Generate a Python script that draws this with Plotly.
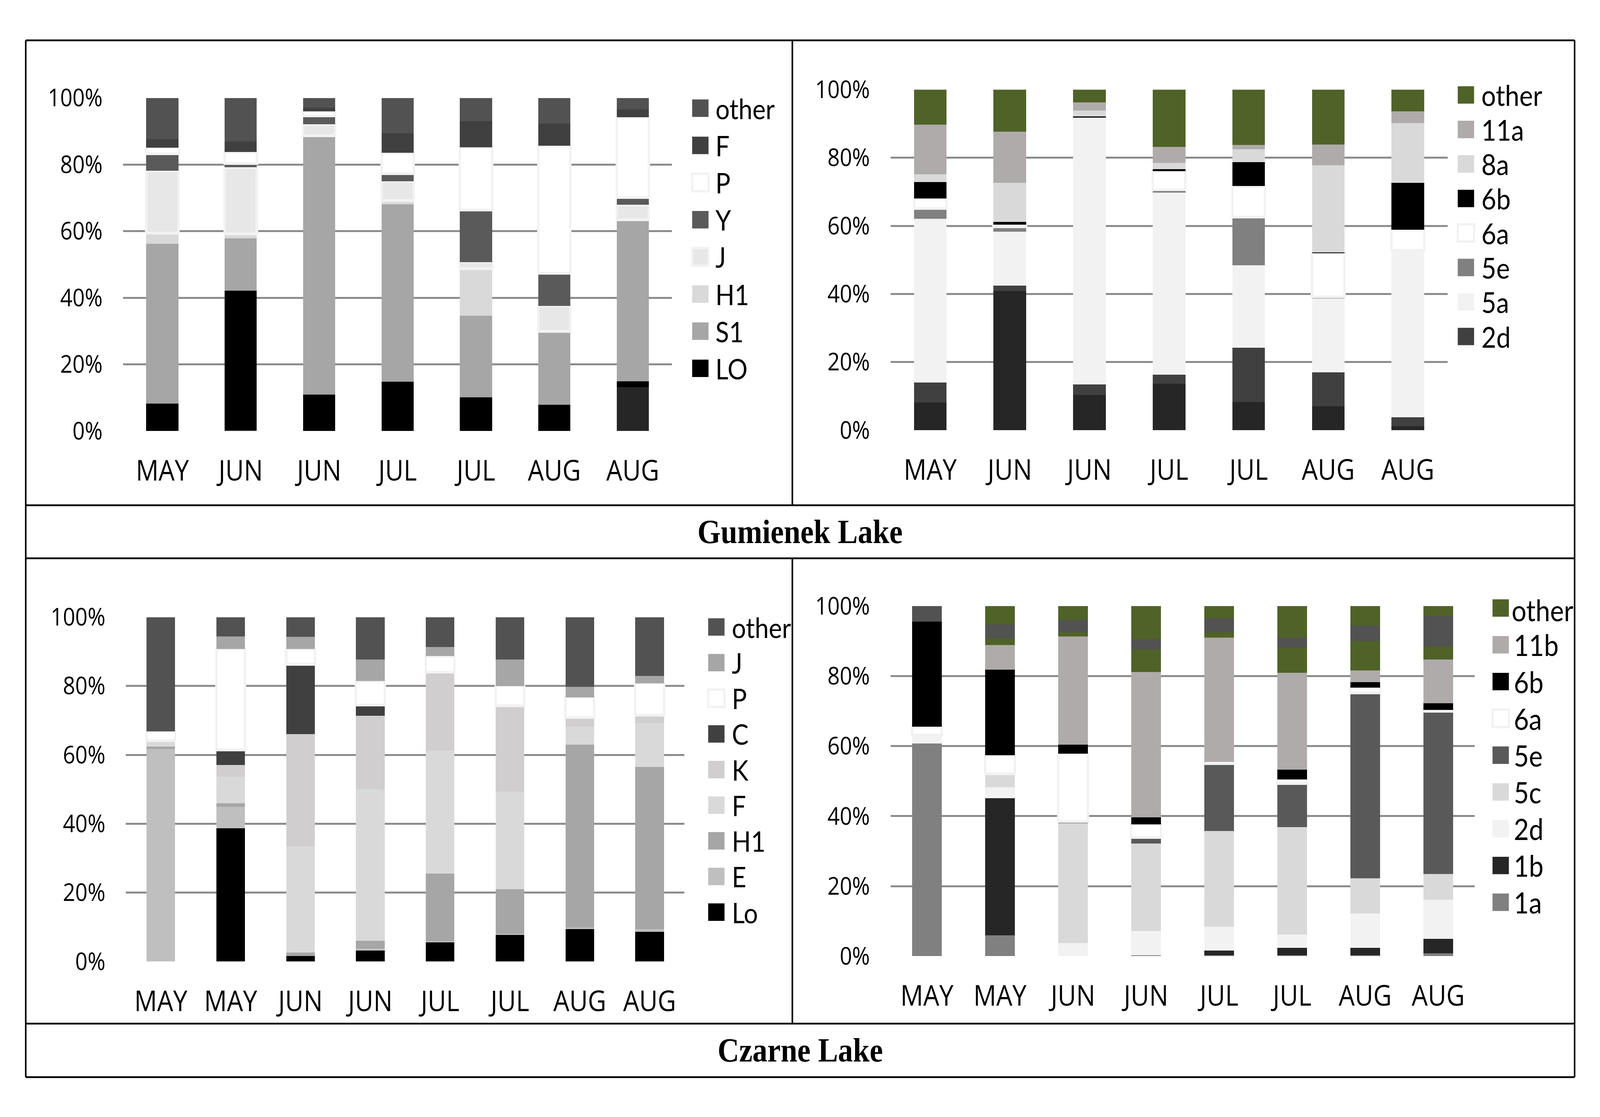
import plotly.graph_objects as go

W, H = 4600, 2859

# ------------------------------------------------------------------ data
# Gumienek Lake, left chart (percent of each segment, bottom -> top)
gum_a_months = ["MAY", "JUN", "JUN", "JUL", "JUL", "AUG", "AUG"]
gum_a_base = [0, 0.4, 0, 0, 0, 0, 13.1]          # unlabelled dark segment
gum_a_LO = [8.2, 41.7, 10.9, 14.8, 10.1, 7.9, 1.8]
gum_a_S1 = [48.0, 15.8, 77.7, 53.3, 24.5, 21.5, 48.5]
gum_a_H1 = [3.2, 1.3, 0, 1.1, 14.2, 0.6, 0]
gum_a_J = [18.7, 20.0, 3.5, 5.8, 1.9, 7.5, 4.5]
gum_a_Y = [5.1, 1.1, 2.5, 2.3, 15.7, 9.8, 2.2]
gum_a_P = [1.9, 3.5, 1.4, 6.2, 18.8, 38.3, 24.1]
gum_a_F = [2.5, 3.2, 1.0, 5.9, 7.8, 6.7, 2.4]
gum_a_other = [12.4, 13.0, 3.0, 10.6, 7.0, 7.7, 3.4]

# Gumienek Lake, right chart
gum_b_months = ["MAY", "JUN", "JUN", "JUL", "JUL", "AUG", "AUG"]
gum_b_base = [8.2, 40.8, 10.3, 13.6, 8.3, 7.0, 1.2]  # unlabelled dark segment
gum_b_2d = [5.8, 1.7, 3.1, 2.7, 15.9, 10.0, 2.6]
gum_b_5a = [48.1, 15.8, 78.2, 53.4, 24.2, 21.7, 49.0]
gum_b_5e = [3.0, 1.4, 0, 0.9, 14.2, 0.5, 0]
gum_b_6a = [2.9, 0.7, 0.2, 5.5, 9.1, 12.8, 6.0]
gum_b_6b = [4.9, 0.7, 0.3, 0.5, 7.0, 0.2, 13.8]
gum_b_8a = [2.2, 11.5, 1.7, 1.9, 3.8, 25.6, 17.6]
gum_b_11a = [14.6, 15.0, 2.5, 4.7, 1.2, 6.1, 3.4]
gum_b_other = [10.3, 12.4, 3.7, 16.8, 16.3, 16.1, 6.4]

# Czarne Lake, left chart
cz_a_months = ["MAY", "MAY", "JUN", "JUN", "JUL", "JUL", "AUG", "AUG"]
cz_a_Lo = [0, 38.7, 1.6, 3.2, 5.5, 7.7, 9.4, 8.6]
cz_a_E = [61.7, 6.2, 0, 0.5, 0.4, 0.3, 0.5, 0.8]
cz_a_H1 = [0.7, 1.0, 1.0, 2.3, 19.6, 13.0, 53.1, 47.1]
cz_a_F = [1.7, 7.8, 30.9, 44.0, 35.7, 28.3, 5.2, 12.7]
cz_a_K = [0, 3.4, 32.5, 21.4, 22.8, 24.9, 2.6, 2.3]
cz_a_C = [0, 4.3, 20.3, 3.1, 0, 0, 0, 0]
cz_a_P = [2.7, 29.4, 4.4, 6.9, 4.7, 5.8, 5.9, 9.3]
cz_a_J = [0, 3.6, 3.6, 6.3, 2.6, 7.7, 3.1, 2.1]
cz_a_other = [33.2, 5.6, 5.7, 12.3, 8.7, 12.3, 20.2, 17.1]

# Czarne Lake, right chart
cz_b_months = ["MAY", "MAY", "JUN", "JUN", "JUL", "JUL", "AUG", "AUG"]
cz_b_1a = [60.7, 6.0, 0, 0.3, 0.3, 0.3, 0.3, 0.8]
cz_b_1b = [0, 39.1, 0, 0, 1.3, 2.1, 2.1, 4.1]
cz_b_2d = [2.4, 3.2, 3.7, 6.9, 6.8, 3.8, 9.8, 11.2]
cz_b_5c = [0, 3.4, 34.3, 25.0, 27.3, 30.7, 10.0, 7.4]
cz_b_5e = [0, 0.4, 0.5, 1.7, 19.3, 12.4, 53.0, 46.5]
cz_b_6a = [2.4, 5.3, 19.4, 3.8, 0.5, 1.2, 1.5, 0.4]
cz_b_6b = [30.1, 24.5, 2.5, 2.0, 0, 2.8, 1.6, 1.9]
cz_b_11b = [0, 7.0, 30.9, 41.5, 35.5, 27.6, 3.3, 12.4]
cz_b_other = [0, 1.9, 1.3, 6.4, 1.6, 7.3, 8.4, 3.7]
cz_b_grey = [4.4, 4.0, 3.4, 2.9, 3.9, 2.8, 4.5, 8.7]   # unlabelled dark segment
cz_b_green = [0, 5.2, 4.0, 9.5, 3.5, 9.0, 5.5, 2.9]  # unlabelled green segment

y_ticks = [0, 20, 40, 60, 80, 100]
y_tick_text = ["0%", "20%", "40%", "60%", "80%", "100%"]
titles = ["Gumienek Lake", "Czarne Lake"]

# ------------------------------------------------------------------ styles
BORDER = "#f2f2f2"
GREEN = "#4f6228"

# (name, values, colour, bordered, in legend)
panels = [
    dict(months=gum_a_months, series=[
        ("", gum_a_base, "#262626", False, False),
        ("LO", gum_a_LO, "#000000", False, True),
        ("S1", gum_a_S1, "#a6a6a6", False, True),
        ("H1", gum_a_H1, "#d9d9d9", False, True),
        ("J", gum_a_J, "#e7e7e7", True, True),
        ("Y", gum_a_Y, "#5a5a5a", False, True),
        ("P", gum_a_P, "#ffffff", True, True),
        ("F", gum_a_F, "#404040", False, True),
        ("other", gum_a_other, "#525252", False, True),
    ], dom_x=(354, 1932), dom_y=(213, 1091),
        leg=dict(sx=1990, cy=240, step=98, tx=2055, fs=72)),
    dict(months=gum_b_months, series=[
        ("", gum_b_base, "#262626", False, False),
        ("2d", gum_b_2d, "#404040", False, True),
        ("5a", gum_b_5a, "#f2f2f2", False, True),
        ("5e", gum_b_5e, "#808080", False, True),
        ("6a", gum_b_6a, "#ffffff", True, True),
        ("6b", gum_b_6b, "#000000", False, True),
        ("8a", gum_b_8a, "#d9d9d9", False, True),
        ("11a", gum_b_11a, "#afabab", False, True),
        ("other", gum_b_other, GREEN, False, True),
    ], dom_x=(2560, 4162), dom_y=(191, 1089),
        leg=dict(sx=4191, cy=205, step=91, tx=4257, fs=74)),
    dict(months=cz_a_months, series=[
        ("Lo", cz_a_Lo, "#000000", False, True),
        ("E", cz_a_E, "#bfbfbf", False, True),
        ("H1", cz_a_H1, "#a6a6a6", False, True),
        ("F", cz_a_F, "#d9d9d9", False, True),
        ("K", cz_a_K, "#d0cece", False, True),
        ("C", cz_a_C, "#404040", False, True),
        ("P", cz_a_P, "#ffffff", True, True),
        ("J", cz_a_J, "#a6a6a6", False, True),
        ("other", cz_a_other, "#525252", False, True),
    ], dom_x=(362, 1968), dom_y=(1582, 2490),
        leg=dict(sx=2036, cy=1608, step=94, tx=2102, fs=72)),
    dict(months=cz_b_months, series=[
        ("1a", cz_b_1a, "#808080", False, True),
        ("1b", cz_b_1b, "#262626", False, True),
        ("2d", cz_b_2d, "#f2f2f2", False, True),
        ("5c", cz_b_5c, "#d9d9d9", False, True),
        ("5e", cz_b_5e, "#595959", False, True),
        ("6a", cz_b_6a, "#ffffff", True, True),
        ("6b", cz_b_6b, "#000000", False, True),
        ("11b", cz_b_11b, "#afabab", False, True),
        ("other", cz_b_other, GREEN, False, True),
        ("", cz_b_grey, "#525252", False, False),
        ("", cz_b_green, GREEN, False, False),
    ], dom_x=(2560, 4240), dom_y=(1553, 2476),
        leg=dict(sx=4291, cy=1558, step=97, tx=4350, fs=75)),
]

TICK_FONT = "Open Sans, Noto Sans, sans-serif"
LEG_FONT = "Lato, Open Sans, sans-serif"


def px(x):
    return x / W


def py(y):
    return 1 - y / H


fig = go.Figure()
shapes = []
annotations = []

for i, p in enumerate(panels, start=1):
    xa = "x" if i == 1 else f"x{i}"
    ya = "y" if i == 1 else f"y{i}"
    n = len(p["months"])
    xs = list(range(n))
    for name, vals, col, bordered, _ in p["series"]:
        yv = [v if v > 0 else None for v in vals]
        fig.add_trace(go.Bar(
            x=xs, y=yv, name=name, xaxis=xa, yaxis=ya, width=0.41,
            marker=dict(color=col,
                        line=dict(color=BORDER, width=7 if bordered else 0)),
            showlegend=False, hoverinfo="skip"))
    ax_common = dict(showline=False, zeroline=False, ticks="")
    fig.layout[("xaxis" if i == 1 else f"xaxis{i}")] = dict(
        domain=[px(p["dom_x"][0]), px(p["dom_x"][1])],
        anchor=ya, range=[-0.5, n - 0.5], tickmode="array",
        tickvals=xs, ticktext=p["months"],
        showgrid=False, tickfont=dict(family=TICK_FONT, size=73, color="#000"),
        ticklabelstandoff=53, **ax_common)
    fig.layout[("yaxis" if i == 1 else f"yaxis{i}")] = dict(
        domain=[py(p["dom_y"][1]), py(p["dom_y"][0])],
        anchor=xa, range=[0, 100], tickmode="array",
        tickvals=y_ticks, ticktext=y_tick_text,
        showgrid=True, gridcolor="#8c8c8c", gridwidth=4.5,
        tickfont=dict(family=TICK_FONT, size=62, color="#000"),
        ticklabelstandoff=58, **ax_common)

    # legend (top -> bottom = reverse stacking order)
    lg = p["leg"]
    items = [s for s in p["series"] if s[4]][::-1]
    for k, (name, vals, col, bordered, _) in enumerate(items):
        cy = lg["cy"] + k * lg["step"]
        shapes.append(dict(
            type="rect", xref="paper", yref="paper",
            x0=px(lg["sx"]), x1=px(lg["sx"] + 47),
            y0=py(cy + 23), y1=py(cy - 23),
            fillcolor=col,
            line=dict(color=BORDER if bordered else col,
                      width=6 if bordered else 0)))
        tx, ty = lg["tx"], cy
        if i == 4 and name == "other":
            tx, ty = lg["tx"] - 6, cy + 5
        annotations.append(dict(
            text=name, xref="paper", yref="paper", x=px(tx), y=py(ty),
            xanchor="left", yanchor="middle", showarrow=False,
            font=dict(family=LEG_FONT, size=lg["fs"], color="#000")))

# frame lines
LW = 4.5
BLK = "#000000"
frame = [
    (74, 61, 4527, 61), (74, 61, 74, 2795), (4527, 61, 4527, 2795),
    (74, 2795, 4527, 2795), (74, 1287, 4527, 1287), (74, 1427, 4527, 1427),
    (74, 2654, 4527, 2654), (2278, 61, 2278, 1287), (2278, 1427, 2278, 2654),
]
for x0, y0, x1, y1 in frame:
    shapes.append(dict(type="line", xref="paper", yref="paper",
                       x0=px(x0), y0=py(y0), x1=px(x1), y1=py(y1),
                       line=dict(color=BLK, width=LW)))

for t, yc in zip(titles, [1357, 2724]):
    annotations.append(dict(
        text=f"<b>{t}</b>", xref="paper", yref="paper", x=px(2300), y=py(yc),
        xanchor="center", yanchor="middle", showarrow=False,
        font=dict(family="Liberation Serif, DejaVu Serif, serif", size=86,
                  color="#000")))

fig.update_layout(
    width=W, height=H, margin=dict(l=0, r=0, t=0, b=0),
    paper_bgcolor="white", plot_bgcolor="white",
    barmode="stack", showlegend=False,
    shapes=shapes, annotations=annotations,
)

# fit the fixed-size figure exactly into the browser viewport
fit_js = """
(function(){
  var W = %d, H = %d;
  var de = document.documentElement, b = document.body;
  de.style.margin = '0'; de.style.padding = '0'; de.style.overflow = 'hidden';
  b.style.margin = '0'; b.style.padding = '0'; b.style.overflow = 'hidden';
  var gd = document.getElementsByClassName('plotly-graph-div')[0];
  if (!gd) return;
  var vw = window.innerWidth, vh = window.innerHeight;
  var sx = vw / W, sy = vh / H;
  if (Math.abs(sx - 1) > 0.002 || Math.abs(sy - 1) > 0.002) {
    var wrap = gd.parentElement;
    wrap.style.width = vw + 'px';
    wrap.style.height = vh + 'px';
    wrap.style.overflow = 'hidden';
    gd.style.transformOrigin = '0 0';
    gd.style.transform = 'scale(' + sx + ',' + sy + ')';
  }
})();
""" % (W, H)

fig.write_html("out.html", post_script=fit_js,
               config={"displayModeBar": False})
